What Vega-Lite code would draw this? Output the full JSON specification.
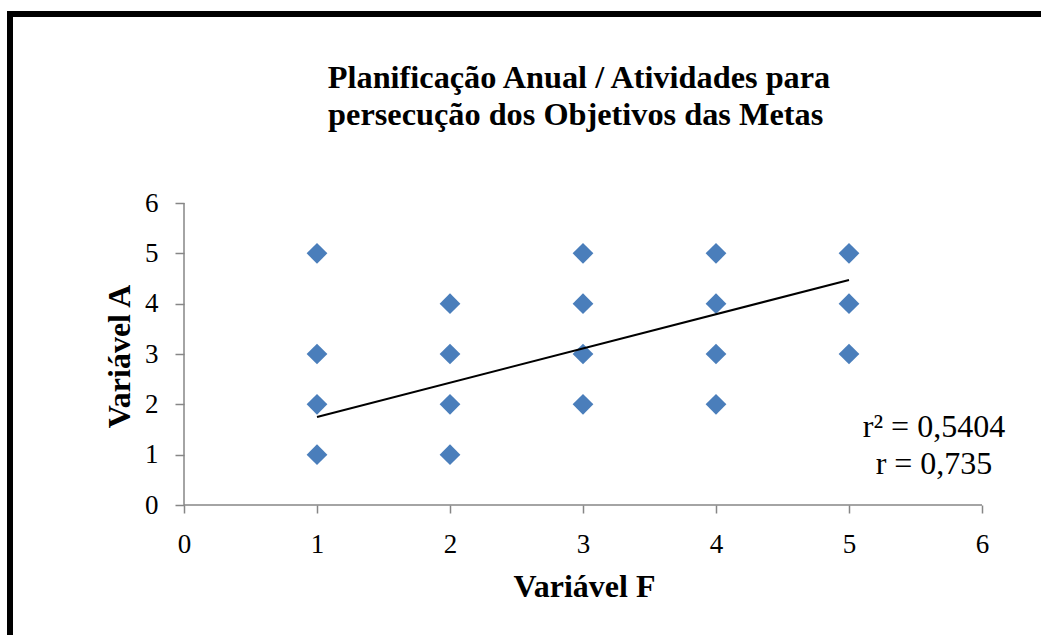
{
  "$schema": "https://vega.github.io/schema/vega-lite/v6.json",
  "width": 1036,
  "height": 626,
  "autosize": {"type": "none"},
  "padding": {"left": 10, "top": 14, "right": -5, "bottom": -5},
  "background": "white",
  "config": {
    "view": {"stroke": "black", "strokeWidth": 6, "fill": "white"},
    "font": "Liberation Serif"
  },
  "datasets": {
    "pts": [
      {"F": 1, "A": 5}, {"F": 1, "A": 3}, {"F": 1, "A": 2}, {"F": 1, "A": 1},
      {"F": 2, "A": 4}, {"F": 2, "A": 3}, {"F": 2, "A": 2}, {"F": 2, "A": 1},
      {"F": 3, "A": 5}, {"F": 3, "A": 4}, {"F": 3, "A": 3}, {"F": 3, "A": 2},
      {"F": 4, "A": 5}, {"F": 4, "A": 4}, {"F": 4, "A": 3}, {"F": 4, "A": 2},
      {"F": 5, "A": 5}, {"F": 5, "A": 4}, {"F": 5, "A": 3}
    ],
    "trend": [{"F": 1, "A": 1.75}, {"F": 5, "A": 4.47}],
    "one": [{}]
  },
  "layer": [
    {
      "data": {"name": "one"},
      "mark": {"type": "rule", "color": "#868686", "strokeWidth": 1.5},
      "encoding": {
        "x": {"datum": 0, "type": "quantitative"},
        "x2": {"datum": 6},
        "y": {"datum": 0, "type": "quantitative"}
      }
    },
    {
      "data": {"name": "one"},
      "mark": {"type": "rule", "color": "#868686", "strokeWidth": 1.5},
      "encoding": {
        "x": {"datum": 0, "type": "quantitative"},
        "y": {"datum": 0, "type": "quantitative"},
        "y2": {"datum": 6}
      }
    },
    {
      "data": {"name": "pts"},
      "mark": {"type": "point", "shape": "diamond", "filled": true, "size": 430, "color": "#4a7ebb", "opacity": 1},
      "encoding": {
        "x": {
          "field": "F", "type": "quantitative",
          "scale": {"domain": [-1.3083, 6.4812], "nice": false, "zero": false},
          "axis": {
            "values": [0, 1, 2, 3, 4, 5, 6], "format": "d", "grid": false, "domain": false,
            "offset": -135, "tickColor": "#868686", "tickSize": 8, "tickWidth": 1.5,
            "labelFont": "Liberation Serif", "labelFontSize": 27, "labelColor": "black",
            "labelPadding": 18, "labelFlush": false, "labelOverlap": false,
            "title": "Variável F", "titleFont": "Liberation Serif", "titleFontSize": 32,
            "titleFontWeight": "bold", "titleColor": "black", "titlePadding": 14, "titleX": 574
          }
        },
        "y": {
          "field": "A", "type": "quantitative",
          "scale": {"domain": [-2.682, 9.755], "nice": false, "zero": false},
          "axis": {
            "values": [0, 1, 2, 3, 4, 5, 6], "format": "d", "grid": false, "domain": false,
            "offset": -174, "tickColor": "#868686", "tickSize": 9, "tickWidth": 1.5,
            "labelFont": "Liberation Serif", "labelFontSize": 27, "labelColor": "black",
            "labelPadding": 17, "labelFlush": false, "labelOverlap": false,
            "title": "Variável A", "titleFont": "Liberation Serif", "titleFontSize": 32,
            "titleFontWeight": "bold", "titleColor": "black", "titlePadding": 8, "titleY": 342
          }
        }
      }
    },
    {
      "data": {"name": "trend"},
      "mark": {"type": "line", "color": "black", "strokeWidth": 2},
      "encoding": {
        "x": {"field": "F", "type": "quantitative"},
        "y": {"field": "A", "type": "quantitative"}
      }
    },
    {
      "data": {"name": "one"},
      "mark": {"type": "text", "font": "Liberation Serif", "fontSize": 32.3, "fontWeight": "bold", "color": "black", "align": "center", "baseline": "alphabetic"},
      "encoding": {
        "x": {"datum": 2.97, "type": "quantitative"},
        "y": {"datum": 8.285, "type": "quantitative"},
        "text": {"value": "Planificação Anual / Atividades para"}
      }
    },
    {
      "data": {"name": "one"},
      "mark": {"type": "text", "font": "Liberation Serif", "fontSize": 32.3, "fontWeight": "bold", "color": "black", "align": "center", "baseline": "alphabetic"},
      "encoding": {
        "x": {"datum": 2.945, "type": "quantitative"},
        "y": {"datum": 7.55, "type": "quantitative"},
        "text": {"value": "persecução dos Objetivos das Metas"}
      }
    },
    {
      "data": {"name": "one"},
      "mark": {"type": "text", "font": "Liberation Serif", "fontSize": 32, "color": "black", "align": "center", "baseline": "alphabetic"},
      "encoding": {
        "x": {"datum": 5.639, "type": "quantitative"},
        "y": {"datum": 1.351, "type": "quantitative"},
        "text": {"value": "r² = 0,5404"}
      }
    },
    {
      "data": {"name": "one"},
      "mark": {"type": "text", "font": "Liberation Serif", "fontSize": 32, "color": "black", "align": "center", "baseline": "alphabetic"},
      "encoding": {
        "x": {"datum": 5.639, "type": "quantitative"},
        "y": {"datum": 0.616, "type": "quantitative"},
        "text": {"value": "r = 0,735"}
      }
    }
  ]
}
